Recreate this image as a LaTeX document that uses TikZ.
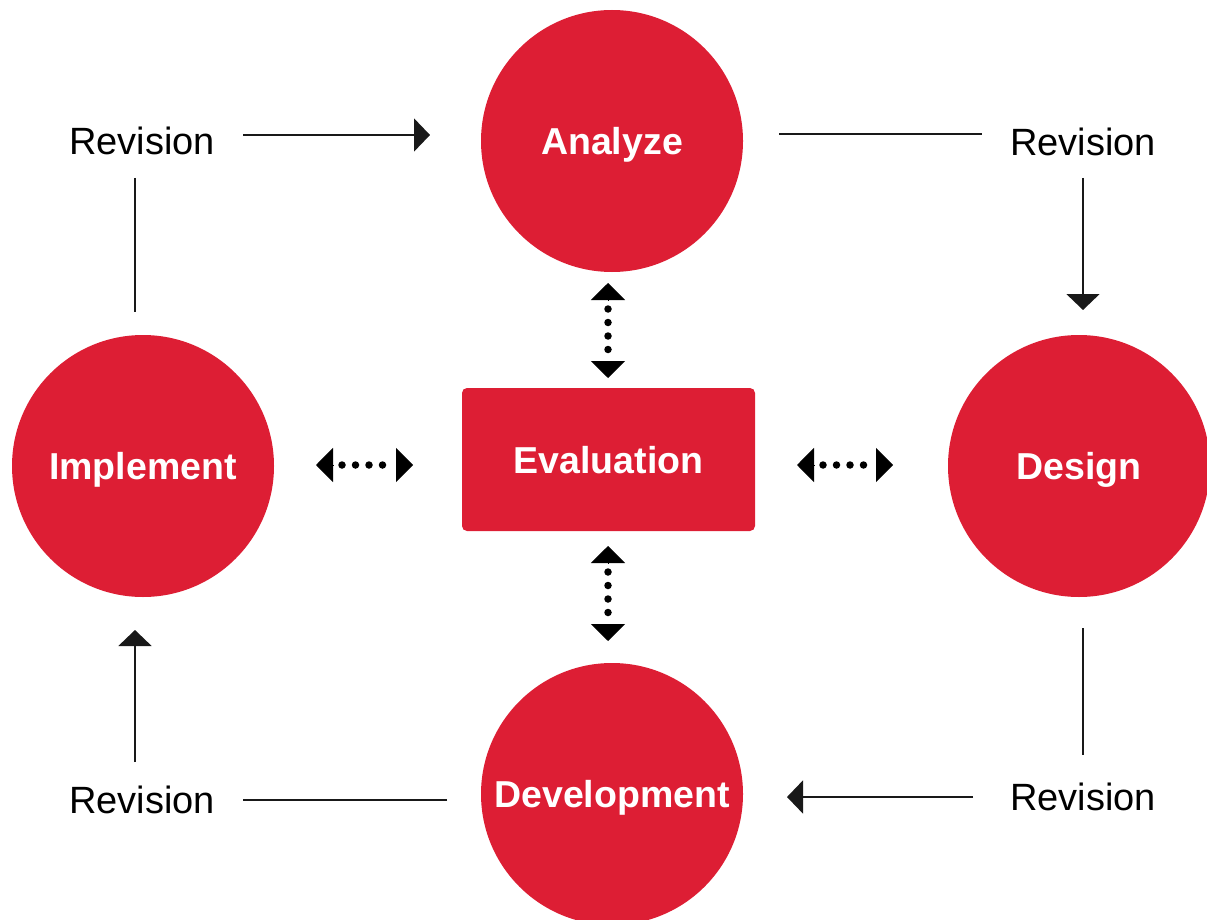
\documentclass[tikz,border=0pt]{standalone}
\usepackage{fontspec}
\setmainfont{Liberation Sans}
\usetikzlibrary{arrows.meta,calc}
\definecolor{phasered}{RGB}{221,30,52}
\begin{document}
\begin{tikzpicture}[x=1pt,y=-1pt,
  phase/.style={circle,fill=phasered,minimum size=262pt,inner sep=0pt,
    text=white,font=\fontsize{37.5}{40}\selectfont\bfseries,
    text height=27pt,text depth=0pt},
  evalbox/.style={rectangle,rounded corners=5pt,fill=phasered,
    minimum width=293pt,minimum height=143pt,inner sep=0pt,
    text=white,font=\fontsize{37.5}{40}\selectfont\bfseries,
    text height=27pt,text depth=0pt},
  revlabel/.style={inner sep=0pt,font=\fontsize{38}{40}\selectfont,
    text height=27pt,text depth=0pt},
  link/.style={line width=1.8pt,black!90},
  linkarrow/.style={link,-{Triangle[length=16pt,width=33pt]}},
  dotline/.style={line width=7.5pt,line cap=round,
    dash pattern=on 0pt off 13.5pt,shorten <=26pt,shorten >=26pt},
  dothead/.style={line width=1pt,-{Triangle[length=17pt,width=34pt]}}
]
\useasboundingbox (0,0) rectangle (1207,920);
\clip (0,0) rectangle (1207,920);

% phases of the cycle
\node[phase]   (ana) at (612,141) {Analyze};
\node[phase]   (des) at (1079,466) {Design};
\node[phase]   (dev) at (612,794) {Development};
\node[phase]   (imp) at (143,466) {Implement};
\node[evalbox] (eva) at (608.5,459.5) {Evaluation};

% revision labels
\node[revlabel] (revTL) at (142,141) {Revision};
\node[revlabel] (revTR) at (1083,142) {Revision};
\node[revlabel] (revBR) at (1083,797) {Revision};
\node[revlabel] (revBL) at (142,800) {Revision};

% revision loop: ends of each segment
\coordinate (tl1) at (243,135);  \coordinate (tl2) at (430,135);
\coordinate (lv1) at (135,178);  \coordinate (lv2) at (135,312);
\coordinate (tr1) at (779,134);  \coordinate (tr2) at (982,134);
\coordinate (rv1) at (1083,178); \coordinate (rv2) at (1083,310);
\coordinate (rl1) at (1083,628); \coordinate (rl2) at (1083,755);
\coordinate (br1) at (973,797);  \coordinate (br2) at (787,797);
\coordinate (bl1) at (447,800);  \coordinate (bl2) at (243,800);
\coordinate (lb1) at (135,762);  \coordinate (lb2) at (135,630);

\draw[linkarrow] (tl1) -- (tl2);
\draw[link]      (lv1) -- (lv2);
\draw[link]      (tr1) -- (tr2);
\draw[linkarrow] (rv1) -- (rv2);
\draw[link]      (rl1) -- (rl2);
\draw[linkarrow] (br1) -- (br2);
\draw[link]      (bl1) -- (bl2);
\draw[linkarrow] (lb1) -- (lb2);

% evaluation feedback: dotted double arrows
\coordinate (et1) at (608,283); \coordinate (et2) at (608,378);
\coordinate (eb1) at (608,546); \coordinate (eb2) at (608,641);
\coordinate (el1) at (316,465); \coordinate (el2) at (413,465);
\coordinate (er1) at (797,465); \coordinate (er2) at (893,465);

\foreach \a/\b in {et1/et2,eb1/eb2,el1/el2,er1/er2}{
  \draw[dotline] (\a) -- (\b);
  \draw[dothead] ($(\a)!17pt!(\b)$) -- (\a);
  \draw[dothead] ($(\b)!17pt!(\a)$) -- (\b);
}
\end{tikzpicture}
\end{document}
